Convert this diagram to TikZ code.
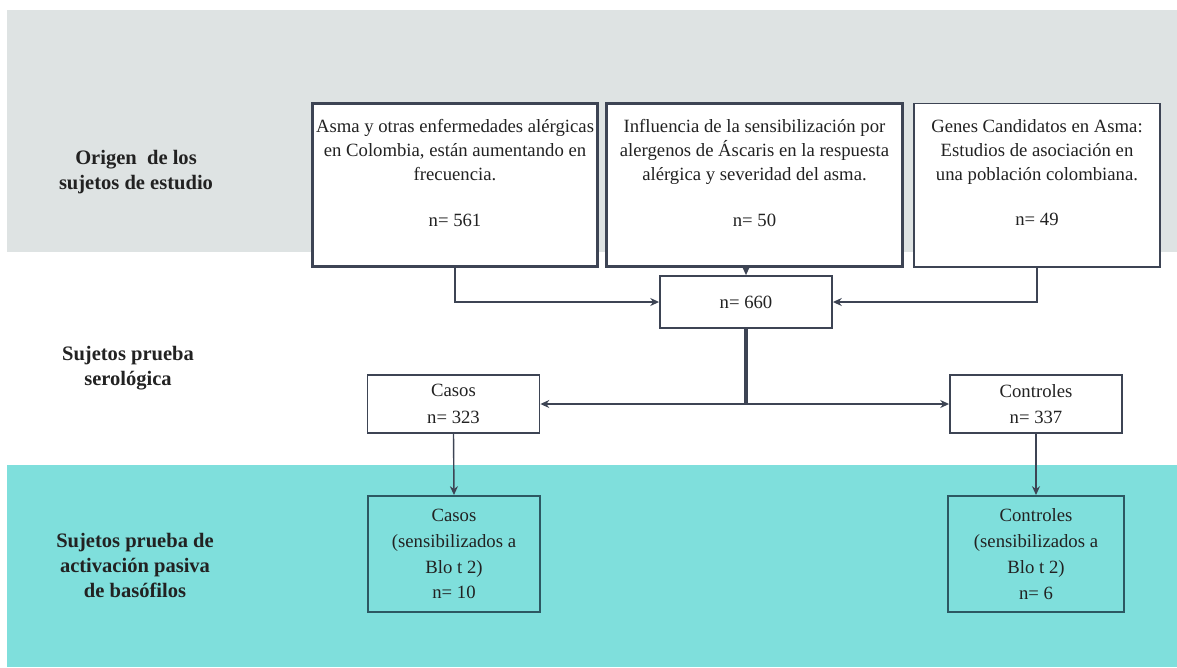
\documentclass[tikz,border=0pt]{standalone}
\usepackage{fontspec}
\setmainfont{Liberation Serif}
\usetikzlibrary{arrows.meta,positioning}
\definecolor{bandgray}{HTML}{DEE3E3}
\definecolor{bandteal}{HTML}{7FDFDC}
\definecolor{ink}{HTML}{3D4454}
\definecolor{tealink}{HTML}{2C5862}
\definecolor{txt}{HTML}{222222}

\begin{document}
\begin{tikzpicture}[x=0.025cm,y=-0.025cm,
  box/.style={draw=ink,fill=white,align=center,text=txt,inner sep=2pt,
    font=\fontsize{13.3}{17.2}\selectfont},
  topbox/.style={box,minimum height=4.075cm,text depth=0.62cm},
  midbox/.style={box,line width=1.3pt,minimum width=4.3cm,minimum height=1.45cm,
    font=\fontsize{13.3}{19}\selectfont},
  lowbox/.style={box,draw=tealink,fill=none,line width=1.4pt,minimum height=2.9cm,
    font=\fontsize{13.3}{18.4}\selectfont},
  lbl/.style={align=center,text=txt,font=\fontsize{14.6}{17.8}\selectfont\bfseries},
  arr/.style={-{Stealth[length=2.2mm,width=2mm]},draw=ink,line width=1pt}]
\useasboundingbox (0,0) rectangle (1177,667);
% bands
\fill[bandgray] (7,10) rectangle (1177,252);
\fill[bandteal] (7,465) rectangle (1177,667);
% row labels
\node[lbl] (origen) at (136,172) {Origen\ \ de los\\sujetos de estudio};
\node[lbl] (sero) at (128,368) {Sujetos prueba\\serológica};
\node[lbl] (activ) at (135,565) {Sujetos prueba de\\activación pasiva\\de basófilos};
% source studies
\node[topbox,line width=2.1pt,minimum width=7.1cm] (b1) at (455,185)
  {Asma y otras enfermedades alérgicas\\en Colombia, están aumentando en\\frecuencia.\\[15pt]n= 561};
\node[topbox,line width=2.1pt,minimum width=7.375cm] (b2) at (754.5,185)
  {Influencia de la sensibilización por\\alergenos de Áscaris en la respuesta\\alérgica y severidad del asma.\\[15pt]n= 50};
\node[topbox,line width=1.4pt,minimum width=6.15cm] (b3) at (1037,185)
  {Genes Candidatos en Asma:\\Estudios de asociación en\\una población colombiana.\\[15pt]n= 49};
% pooled
\node[box,line width=1.3pt,minimum width=4.3cm,minimum height=1.3cm] (n660) at (746,302) {n= 660};
\draw[arr] (b1.south) |- (n660.west);
\draw[arr] (n660.north |- b2.south) -- (n660.north);
\draw[arr] (b3.south) |- (n660.east);
% serology split
\node[midbox] (casos) at (453.5,404) {Casos\\n= 323};
\node[midbox] (ctrl) at (1036,404) {Controles\\n= 337};
\coordinate (split) at (n660.south |- casos.east);
\draw[ink,line width=2.8pt] (n660.south) -- (split);
\draw[arr] (split) -- (casos.east);
\draw[arr] (split) -- (ctrl.west);
% basophil test
\node[lowbox,minimum width=4.3cm] (casos2) at (454,554) {Casos\\(sensibilizados a\\Blo t 2)\\n= 10};
\node[lowbox,minimum width=4.4cm] (ctrl2) at (1036,554) {Controles\\(sensibilizados a\\Blo t 2)\\n= 6};
\draw[arr] (casos.south) -- (casos2.north);
\draw[arr] (ctrl.south) -- (ctrl2.north);
\end{tikzpicture}
\end{document}
